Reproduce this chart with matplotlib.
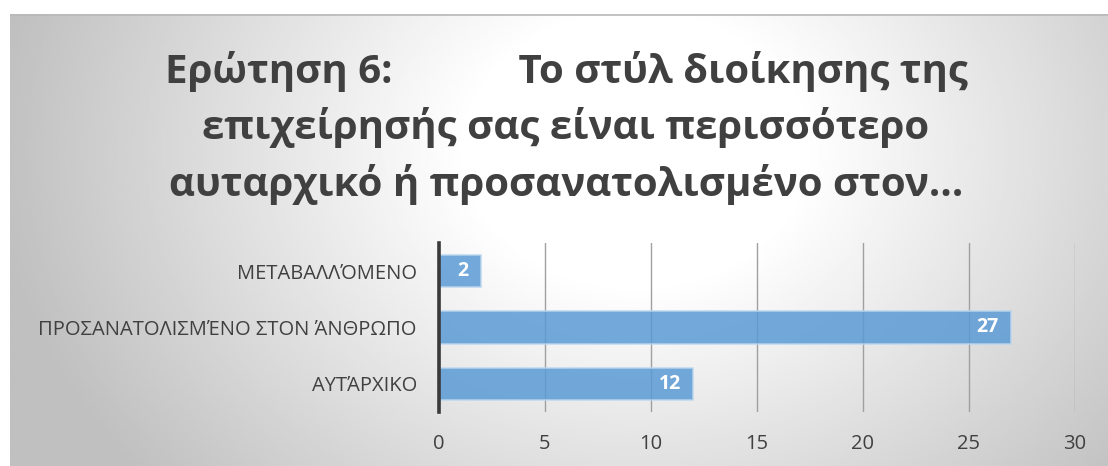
import matplotlib.pyplot as plt
import numpy as np

plt.rcParams['font.family'] = ['Open Sans', 'DejaVu Sans']

# survey answers, bottom to top as they appear on the axis
categories = ['ΑΥΤΆΡΧΙΚΟ', 'ΠΡΟΣΑΝΑΤΟΛΙΣΜΈΝΟ ΣΤΟΝ ΆΝΘΡΩΠΟ', 'ΜΕΤΑΒΑΛΛΌΜΕΝΟ']
counts = [12, 27, 2]
xticks = [0, 5, 10, 15, 20, 25, 30]
title_lines = ['Ερώτηση 6:            Το στύλ διοίκησης της',
               'επιχείρησής σας είναι περισσότερο',
               'αυταρχικό ή προσανατολισμένο στον…']

W, H = 1108, 466
fig = plt.figure(figsize=(W / 100, H / 100), dpi=100)
fig.patch.set_facecolor('white')

# radial grey-to-white backdrop of the chart area
bg = fig.add_axes([10 / W, 0, 1 - 10 / W, (H - 14) / H])
gx, gy = np.meshgrid(np.linspace(0, 1, 400), np.linspace(0, 1, 200))
r = np.sqrt(((gx - 0.57) / 0.62) ** 2 + ((gy - 0.3) / 1.2) ** 2)
shade = 1 - 0.25 * np.clip((r - 0.25) / 0.7, 0, 1)
bg.imshow(shade, cmap='gray', vmin=0, vmax=1, aspect='auto', extent=[0, 1, 1, 0])
bg.set_xlim(0, 1)
bg.set_ylim(1, 0)
bg.axis('off')
bg.axhline(0.002, color='#b8b8b8', lw=1.2)

ax = fig.add_axes([439 / W, 54 / H, 636 / W, 169 / H])
ax.patch.set_alpha(0)

y = np.arange(len(categories))
ax.barh(y, counts, height=0.57, color='#5b9bd5', alpha=0.85,
        edgecolor='#bcd6ee', linewidth=1.2, zorder=3)

for yi, v in zip(y, counts):
    ax.text(v - 0.6, yi, str(v), ha='right', va='center', color='white',
            fontsize=14, fontweight='bold', zorder=4)

ax.set_xlim(0, 30)
ax.set_ylim(-0.5, 2.5)
ax.set_xticks(xticks)
ax.set_yticks(y)
ax.set_yticklabels(categories)
ax.grid(axis='x', color='#a0a0a0', lw=1.0, zorder=0)
ax.tick_params(axis='both', length=0, labelcolor='#404040')
ax.tick_params(axis='x', labelsize=14.5, pad=16)
ax.tick_params(axis='y', labelsize=14.5, pad=16)
for s in ['top', 'right', 'bottom']:
    ax.spines[s].set_visible(False)
ax.spines['left'].set_color('#3a3a3a')
ax.spines['left'].set_linewidth(2.6)
ax.spines['left'].set_zorder(5)

fig.text(566 / W, 1 - 128 / H, '\n'.join(title_lines), ha='center', va='center',
         fontsize=29, fontweight='bold', color='#404040', linespacing=1.47)

fig.savefig('out.png', dpi=100)
